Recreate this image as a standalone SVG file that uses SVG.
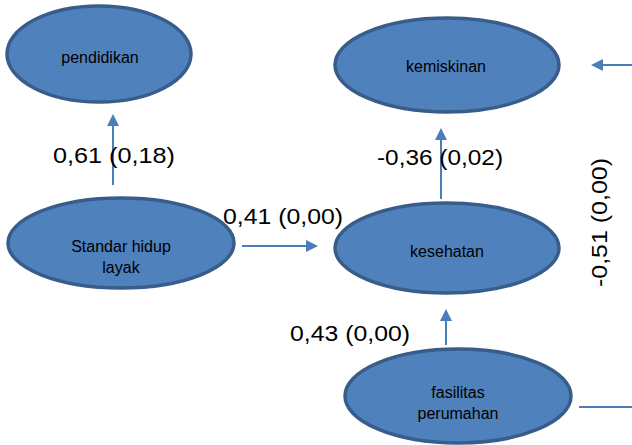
<svg xmlns="http://www.w3.org/2000/svg" width="632" height="445" viewBox="0 0 632 445">
  <defs>
    <marker id="arrow" markerWidth="6" markerHeight="6" refX="5" refY="3" orient="auto" markerUnits="strokeWidth">
      <path d="M0,0 L6,3 L0,6 Z" fill="#4A7EBB"/>
    </marker>
  </defs>
  <style>
    .node ellipse { fill: #4F81BD; stroke: #385D8A; stroke-width: 3.5; }
    .node text { font-family: "Liberation Sans", Arial, sans-serif; font-size: 16px; fill: #000; text-anchor: middle; }
    .edge { stroke: #4A7EBB; stroke-width: 2; fill: none; }
    .lbl { font-family: "Liberation Sans", Arial, sans-serif; font-size: 22px; fill: #000; }
  </style>
  <rect width="632" height="445" fill="#fff"/>

  <g id="connectors">
    <line class="edge" x1="113" y1="185" x2="113" y2="116" marker-end="url(#arrow)"/>
    <line class="edge" x1="441" y1="199" x2="441" y2="130" marker-end="url(#arrow)"/>
    <line class="edge" x1="242" y1="246" x2="316" y2="246" marker-end="url(#arrow)"/>
    <line class="edge" x1="446" y1="345" x2="446" y2="311" marker-end="url(#arrow)"/>
    <line class="edge" x1="579" y1="407" x2="632" y2="407"/>
    <line class="edge" x1="632" y1="65" x2="593" y2="65" marker-end="url(#arrow)"/>
    <text class="lbl" x="53" y="163" textLength="122" lengthAdjust="spacingAndGlyphs">0,61 (0,18)</text>
    <text class="lbl" x="377" y="165" textLength="126" lengthAdjust="spacingAndGlyphs">-0,36 (0,02)</text>
    <text class="lbl" x="223" y="224" textLength="120" lengthAdjust="spacingAndGlyphs">0,41 (0,00)</text>
    <text class="lbl" x="290" y="341" textLength="120" lengthAdjust="spacingAndGlyphs">0,43 (0,00)</text>
    <text class="lbl" transform="translate(607,287) rotate(-90)" x="0" y="0" textLength="129" lengthAdjust="spacingAndGlyphs">-0,51 (0,00)</text>
  </g>

  <g id="pendidikan" class="node">
    <ellipse cx="99" cy="54" rx="92" ry="48"/>
    <text x="100" y="63">pendidikan</text>
  </g>
  <g id="kemiskinan" class="node">
    <ellipse cx="447" cy="65" rx="112" ry="47"/>
    <text x="446" y="72">kemiskinan</text>
  </g>
  <g id="standar-hidup-layak" class="node">
    <ellipse cx="121" cy="243" rx="113" ry="45"/>
    <text x="121" y="252">Standar hidup</text>
    <text x="121" y="273">layak</text>
  </g>
  <g id="kesehatan" class="node">
    <ellipse cx="447" cy="248" rx="112" ry="45"/>
    <text x="447" y="257">kesehatan</text>
  </g>
  <g id="fasilitas-perumahan" class="node">
    <ellipse cx="458" cy="396" rx="113" ry="47"/>
    <text x="458" y="398">fasilitas</text>
    <text x="458" y="419">perumahan</text>
  </g>
</svg>
